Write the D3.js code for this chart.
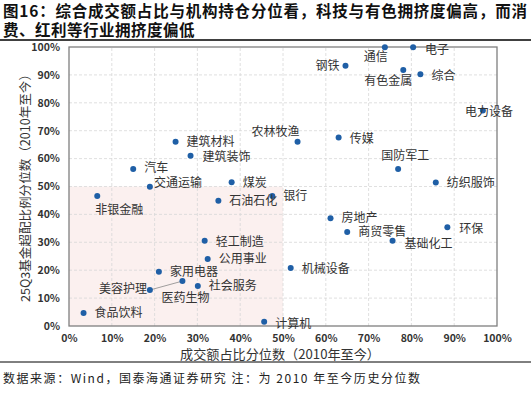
<!DOCTYPE html>
<html>
<head>
<meta charset="utf-8">
<script src="https://cdn.jsdelivr.net/npm/d3@7"></script>
<style>
  body { margin: 0; background: #fff; }
  svg text { font-family: "Noto Sans CJK SC", sans-serif; }
</style>
</head>
<body>
<svg id="chart" width="531" height="394"></svg>
<script>
// industries, turnover-share percentile (x) and fund overweight percentile (y), in %
const industries = ['通信', '电子', '钢铁', '有色金属', '综合', '电力设备', '农林牧渔', '传媒',
  '国防军工', '纺织服饰', '银行', '建筑材料', '建筑装饰', '汽车', '交通运输', '煤炭',
  '非银金融', '石油石化', '轻工制造', '公用事业', '家用电器', '医药生物', '美容护理',
  '社会服务', '食品饮料', '计算机', '房地产', '商贸零售', '基础化工', '环保', '机械设备']
const turnoverPct = [73.8, 80.4, 64.6, 78.1, 82.1, 96.7, 53.4, 63.0,
  76.9, 85.7, 47.5, 24.9, 28.4, 15.0, 18.9, 38.0,
  6.6, 34.9, 31.7, 32.4, 21.0, 26.5, 18.9,
  30.1, 3.4, 45.6, 61.1, 65.0, 75.6, 88.4, 51.8]
const holdingPct = [99.9, 99.9, 93.3, 91.8, 90.2, 77.2, 66.0, 67.6,
  56.3, 51.4, 46.6, 66.0, 61.0, 56.3, 49.9, 51.5,
  46.6, 44.9, 30.6, 24.0, 19.4, 16.1, 12.9,
  14.3, 4.7, 1.5, 38.6, 33.7, 30.6, 35.4, 20.8]
const tickValues = [0, 10, 20, 30, 40, 50, 60, 70, 80, 90, 100]
const lowZone = [50, 50] // low-crowding quadrant upper bounds (x, y)
const titleLines = ['图16：综合成交额占比与机构持仓分位看，科技与有色拥挤度偏高，而消', '费、红利等行业拥挤度偏低']

// label placement: [dx, dy, anchor]
const labelPos = {
  '通信': [3, 10, 'end'], '电子': [12, 3, 'start'], '钢铁': [-6, 0, 'end'],
  '有色金属': [9, 11, 'end'], '综合': [11, 1, 'start'], '电力设备': [-18, 1, 'start'],
  '农林牧渔': [2, -10, 'end'], '传媒': [11, 1, 'start'], '国防军工': [-17, -13, 'start'],
  '非银金融': [-2, 14, 'start'], '交通运输': [4, -4, 'start'], '医药生物': [-21, 17, 'start'],
  '美容护理': [-3, -1, 'end'], '计算机': [11, 2, 'start'], '房地产': [11, -1, 'start'],
  '基础化工': [12, 3, 'start'], '环保': [12, 2, 'start'], '建筑装饰': [12, 1, 'start'],
  '轻工制造': [11, 1, 'start'], '机械设备': [11, 1, 'start'], '汽车': [11, -1, 'start']
}

const svg = d3.select('#chart')
const margin = {top: 47, right: 34, bottom: 68, left: 69}
const width = 531, height = 394

const x = d3.scaleLinear().domain([0, 100]).range([margin.left, width - margin.right])
const y = d3.scaleLinear().domain([0, 100]).range([height - margin.bottom, margin.top])

// title: one text, two lines
const title = svg.append('text')
  .attr('font-weight', 'bold').attr('font-size', 15.5).attr('fill', '#111')
  .attr('font-family', '"Liberation Serif", "Noto Sans CJK SC", serif')
title.append('tspan').attr('x', 3).attr('y', 16.5).text(titleLines[0])
  .attr('textLength', 524).attr('lengthAdjust', 'spacing')
title.append('tspan').attr('x', 3).attr('y', 36).attr('letter-spacing', 0.5).text(titleLines[1])
svg.append('line').attr('x1', 0).attr('x2', width).attr('y1', 40).attr('y2', 40)
  .attr('stroke', '#000').attr('stroke-width', 1.3)

// shaded low zone
svg.append('rect')
  .attr('x', x(0)).attr('y', y(lowZone[1]))
  .attr('width', x(lowZone[0]) - x(0)).attr('height', y(0) - y(lowZone[1]))
  .attr('fill', '#fbf0ef')

// grid
const grid = svg.append('g').attr('stroke', '#d8d8d8').attr('stroke-dasharray', '3,2').attr('stroke-width', 0.8)
grid.selectAll('.gx').data(tickValues.slice(1, -1)).enter().append('line')
  .attr('x1', d => x(d)).attr('x2', d => x(d)).attr('y1', y(0)).attr('y2', y(100))
grid.selectAll('.gy').data(tickValues.slice(1, -1)).enter().append('line')
  .attr('x1', x(0)).attr('x2', x(100)).attr('y1', d => y(d)).attr('y2', d => y(d))

// axes
const fmt = d => d + '%'
const xAxis = svg.append('g').attr('transform', `translate(0,${y(0)})`)
  .call(d3.axisBottom(x).tickValues(tickValues).tickFormat(fmt).tickSize(0).tickPadding(9))
const yAxis = svg.append('g').attr('transform', `translate(${x(0)},0)`)
  .call(d3.axisLeft(y).tickValues(tickValues).tickFormat(fmt).tickSize(0).tickPadding(9))
;[xAxis, yAxis].forEach(a => {
  a.select('.domain').remove()
  a.selectAll('text').attr('font-family', '"Liberation Serif", serif')
    .attr('font-size', 10.5).attr('font-weight', 'bold').attr('fill', '#333')
})

// plot frame
svg.append('rect')
  .attr('x', x(0)).attr('y', y(100)).attr('width', x(100) - x(0)).attr('height', y(0) - y(100))
  .attr('fill', 'none').attr('stroke', '#7f7f7f').attr('stroke-width', 1.3)

// axis titles
svg.append('text').attr('x', 180).attr('y', 359)
  .attr('font-size', 13).attr('fill', '#333')
  .attr('textLength', 200).attr('lengthAdjust', 'spacingAndGlyphs')
  .text('成交额占比分位数（2010年至今）')
svg.append('text').attr('transform', `translate(30,302) rotate(-90)`)
  .attr('font-size', 12.5).attr('fill', '#333')
  .attr('textLength', 234).attr('lengthAdjust', 'spacingAndGlyphs')
  .text('25Q3基金超配比例分位数（2010年至今）')

// points
const data = industries.map((name, i) => ({name, x: turnoverPct[i], y: holdingPct[i]}))
const byName = Object.fromEntries(data.map(d => [d.name, d]))

// leader line between 美容护理 and 医药生物
svg.append('line')
  .attr('x1', x(byName['美容护理'].x)).attr('y1', y(byName['美容护理'].y))
  .attr('x2', x(byName['医药生物'].x)).attr('y2', y(byName['医药生物'].y))
  .attr('stroke', '#888').attr('stroke-width', 0.8)

svg.selectAll('.dot')
  .data(data)
  .enter()
  .append('circle')
  .attr('class', 'dot')
  .attr('cx', d => x(d.x))
  .attr('cy', d => y(d.y))
  .attr('r', 3)
  .attr('fill', '#1f5fa6')

svg.selectAll('.lbl')
  .data(data)
  .enter()
  .append('text')
  .attr('class', 'lbl')
  .attr('x', d => x(d.x) + (labelPos[d.name] || [11, 0])[0])
  .attr('y', d => y(d.y) + (labelPos[d.name] || [11, 0])[1])
  .attr('dy', '0.35em')
  .attr('text-anchor', d => (labelPos[d.name] || [11, 0, 'start'])[2])
  .attr('font-size', 12)
  .attr('fill', '#333')
  .text(d => d.name)

// footer
svg.append('line').attr('x1', 0).attr('x2', width).attr('y1', 362).attr('y2', 362)
  .attr('stroke', '#000').attr('stroke-width', 1)
svg.append('text').attr('x', 3).attr('y', 383).attr('font-size', 12).attr('fill', '#222')
  .attr('textLength', 417).attr('lengthAdjust', 'spacing')
  .text('数据来源：Wind，国泰海通证券研究 注：为 2010 年至今历史分位数')
</script>
</body>
</html>
